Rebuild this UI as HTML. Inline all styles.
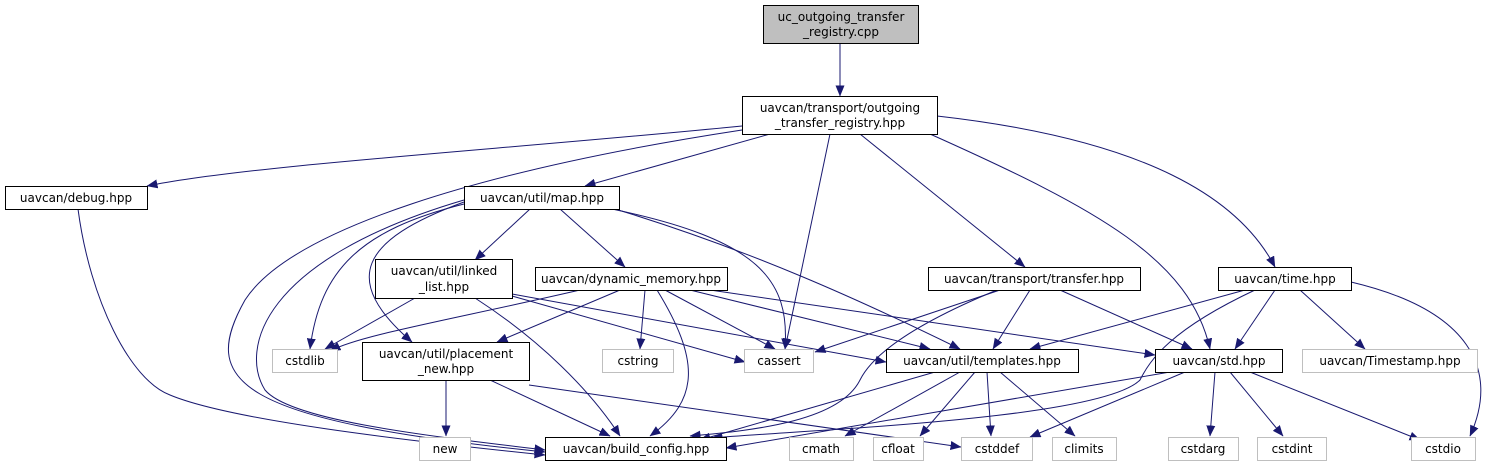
<!DOCTYPE html>
<html><head><meta charset="utf-8"><style>
html,body{margin:0;padding:0;background:#fff;}
svg text{font-family:"DejaVu Sans","Liberation Sans",sans-serif;font-size:12px;}
</style></head><body>
<svg width="1502" height="469" viewBox="0 0 1502 469" xmlns="http://www.w3.org/2000/svg">
<defs>
<marker id="a" markerWidth="11" markerHeight="9" refX="10.5" refY="4.5" orient="auto" markerUnits="userSpaceOnUse">
<path d="M0,0 L11,4.5 L0,9 Z" fill="#191970"/>
</marker>
</defs>
<g fill="none" stroke="#191970" stroke-width="1" marker-end="url(#a)">
<path d="M840,43 L840,96"/>
<path d="M742,126 C500,150 250,165 147,186"/>
<path d="M770,134 L585,186"/>
<path d="M742,130 C480,170 290,230 245,300 C200,380 230,420 545,452"/>
<path d="M830,134 L785,349"/>
<path d="M860,134 L1025,267"/>
<path d="M930,134 C1100,210 1190,260 1210,349"/>
<path d="M937,116 C1150,140 1240,200 1275,267"/>
<path d="M78,209 C90,300 130,380 170,395 C230,420 400,440 545,455"/>
<path d="M464,204 C360,230 320,270 310,349"/>
<path d="M464,202 C360,240 340,280 412,342"/>
<path d="M464,200 C260,260 240,350 265,390 C290,420 420,435 545,450"/>
<path d="M530,209 L475,260"/>
<path d="M560,209 L625,267"/>
<path d="M612,209 C760,240 790,280 785,349"/>
<path d="M615,209 C750,250 860,300 960,349"/>
<path d="M415,298 L325,349"/>
<path d="M475,298 C540,340 590,390 620,436"/>
<path d="M512,296 L745,362"/>
<path d="M512,294 L886,362"/>
<path d="M580,290 C450,320 360,335 330,351"/>
<path d="M620,290 L497,342"/>
<path d="M645,290 L640,349"/>
<path d="M657,290 C700,360 700,400 650,436"/>
<path d="M665,290 L775,349"/>
<path d="M690,290 L930,349"/>
<path d="M710,290 L1155,355"/>
<path d="M446,380 L446,436"/>
<path d="M490,380 L610,436"/>
<path d="M529,385 L961,447"/>
<path d="M1000,290 L815,352"/>
<path d="M997,290 C900,330 870,360 860,380 C840,420 760,430 690,436"/>
<path d="M1030,290 L993,349"/>
<path d="M1060,290 L1192,349"/>
<path d="M1245,290 L1030,349"/>
<path d="M1255,290 C1170,330 1150,360 1140,380 C1100,420 800,430 712,438"/>
<path d="M1275,290 L1235,349"/>
<path d="M1300,290 L1365,349"/>
<path d="M1351,282 C1470,310 1500,370 1470,436"/>
<path d="M935,372 L700,440"/>
<path d="M960,372 L845,436"/>
<path d="M975,372 L920,436"/>
<path d="M987,372 L991,436"/>
<path d="M1000,372 L1075,436"/>
<path d="M1170,372 L726,448"/>
<path d="M1185,372 L1030,437"/>
<path d="M1215,372 L1210,436"/>
<path d="M1230,372 L1283,436"/>
<path d="M1250,372 L1420,440"/>
</g>
<g stroke-width="1">
<rect x="763.5" y="5.5" width="155" height="38" fill="#bfbfbf" stroke="#000"/>
<rect x="742.5" y="96.5" width="195" height="38" fill="#fff" stroke="#000"/>
<rect x="5.5" y="186.5" width="142" height="23" fill="#fff" stroke="#000"/>
<rect x="464.5" y="186.5" width="155" height="23" fill="#fff" stroke="#000"/>
<rect x="375.5" y="259.5" width="137" height="39" fill="#fff" stroke="#000"/>
<rect x="535.5" y="267.5" width="192" height="23" fill="#fff" stroke="#000"/>
<rect x="928.5" y="267.5" width="212" height="23" fill="#fff" stroke="#000"/>
<rect x="1218.5" y="267.5" width="133" height="23" fill="#fff" stroke="#000"/>
<rect x="272.5" y="349.5" width="65" height="23" fill="#fff" stroke="#bfbfbf"/>
<rect x="362.5" y="342.5" width="167" height="38" fill="#fff" stroke="#000"/>
<rect x="602.5" y="349.5" width="71" height="23" fill="#fff" stroke="#bfbfbf"/>
<rect x="744.5" y="349.5" width="69" height="23" fill="#fff" stroke="#bfbfbf"/>
<rect x="886.5" y="349.5" width="192" height="23" fill="#fff" stroke="#000"/>
<rect x="1155.5" y="349.5" width="127" height="23" fill="#fff" stroke="#000"/>
<rect x="1302.5" y="349.5" width="175" height="23" fill="#fff" stroke="#bfbfbf"/>
<rect x="419.5" y="437.5" width="51" height="23" fill="#fff" stroke="#bfbfbf"/>
<rect x="545.5" y="437.5" width="181" height="23" fill="#fff" stroke="#000"/>
<rect x="789.5" y="437.5" width="64" height="23" fill="#fff" stroke="#bfbfbf"/>
<rect x="873.5" y="437.5" width="50" height="23" fill="#fff" stroke="#bfbfbf"/>
<rect x="961.5" y="437.5" width="71" height="23" fill="#fff" stroke="#bfbfbf"/>
<rect x="1052.5" y="437.5" width="64" height="23" fill="#fff" stroke="#bfbfbf"/>
<rect x="1168.5" y="437.5" width="70" height="23" fill="#fff" stroke="#bfbfbf"/>
<rect x="1257.5" y="437.5" width="69" height="23" fill="#fff" stroke="#bfbfbf"/>
<rect x="1411.5" y="437.5" width="64" height="23" fill="#fff" stroke="#bfbfbf"/>
</g>
<g text-anchor="middle" fill="#000">
<text x="841" y="21">uc_outgoing_transfer</text>
<text x="841" y="36">_registry.cpp</text>
<text x="840" y="112">uavcan/transport/outgoing</text>
<text x="840" y="127">_transfer_registry.hpp</text>
<text x="76" y="202">uavcan/debug.hpp</text>
<text x="542" y="202">uavcan/util/map.hpp</text>
<text x="444" y="275">uavcan/util/linked</text>
<text x="444" y="291">_list.hpp</text>
<text x="631" y="283">uavcan/dynamic_memory.hpp</text>
<text x="1034" y="283">uavcan/transport/transfer.hpp</text>
<text x="1285" y="283">uavcan/time.hpp</text>
<text x="305" y="365">cstdlib</text>
<text x="446" y="358">uavcan/util/placement</text>
<text x="446" y="373">_new.hpp</text>
<text x="638" y="365">cstring</text>
<text x="779" y="365">cassert</text>
<text x="982" y="365">uavcan/util/templates.hpp</text>
<text x="1219" y="365">uavcan/std.hpp</text>
<text x="1390" y="365">uavcan/Timestamp.hpp</text>
<text x="445" y="453">new</text>
<text x="636" y="453">uavcan/build_config.hpp</text>
<text x="821" y="453">cmath</text>
<text x="898" y="453">cfloat</text>
<text x="997" y="453">cstddef</text>
<text x="1084" y="453">climits</text>
<text x="1203" y="453">cstdarg</text>
<text x="1292" y="453">cstdint</text>
<text x="1443" y="453">cstdio</text>
</g>
</svg>
</body></html>
